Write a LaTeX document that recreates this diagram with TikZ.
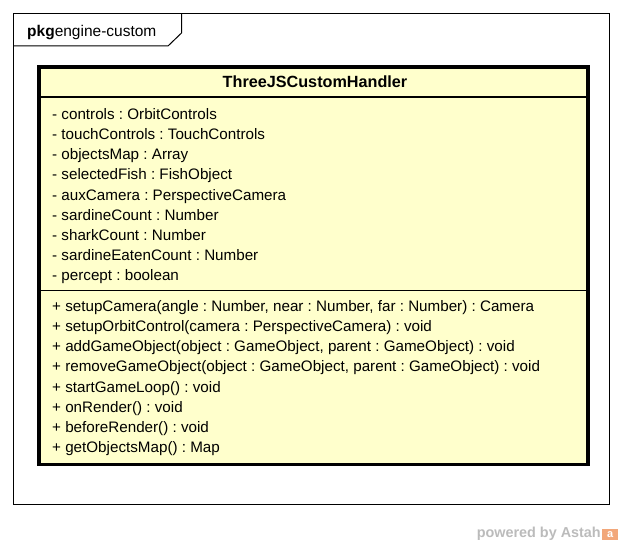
\documentclass[tikz,border=0pt]{standalone}
\usepackage{fontspec}
\setmainfont{Liberation Sans}
\usetikzlibrary{positioning}
\frenchspacing
\definecolor{classfill}{HTML}{FFFFCC}
\definecolor{astahgray}{HTML}{BBBBBB}
\definecolor{astahorange}{HTML}{F2A77A}
\tikzset{
  member/.style={anchor=base west, inner sep=0, font=\fontsize{15.2}{18}\selectfont},
  frameline/.style={black, line width=1pt}
}
\begin{document}
\begin{tikzpicture}[x=1pt, y=-1pt]
\useasboundingbox (0,0) rectangle (622,545);
\draw[frameline] (13.5,13.5) rectangle (609,505);
\draw[frameline] (13.5,46) -- (168,46) -- (181.5,33) -- (181.5,13.5);
\node[member, font=\fontsize{15.5}{18}\selectfont] (pkg) at (27,36.5) {\textbf{pkg}engine-custom};
\draw[fill=classfill, line width=3.2pt] (39,67) rectangle (588,464.5);
\draw[line width=1.2pt] (40,97) -- (587,97);
\draw[line width=1.2pt] (40,290.5) -- (587,290.5);
\node[member, anchor=base, font=\fontsize{16.2}{18}\selectfont\bfseries] (name) at (315,88) {ThreeJSCustomHandler};
\foreach \t [count=\i] in {{- controls : OrbitControls},{- touchControls : TouchControls},{- objectsMap : Array},{- selectedFish : FishObject},{- auxCamera : PerspectiveCamera},{- sardineCount : Number},{- sharkCount : Number},{- sardineEatenCount : Number},{- percept : boolean}}
  \node[member] (attr\i) at (52,{119.5+20.15*(\i-1)}) {\t};
\foreach \t [count=\i] in {{+ setupCamera(angle : Number, near : Number, far : Number) : Camera},{+ setupOrbitControl(camera : PerspectiveCamera) : void},{+ addGameObject(object : GameObject, parent : GameObject) : void},{+ removeGameObject(object : GameObject, parent : GameObject) : void},{+ startGameLoop() : void},{+ onRender() : void},{+ beforeRender() : void},{+ getObjectsMap() : Map}}
  \node[member] (op\i) at (52,{311.5+20.15*(\i-1)}) {\t};
\node[anchor=base east, inner sep=0, text=astahgray, font=\fontsize{14.4}{16}\selectfont\bfseries] (powered) at (601,538) {powered by Astah};
\node[right=1pt of powered.east, anchor=west, fill=astahorange, text=white, inner sep=0, minimum width=16pt, minimum height=11pt, font=\fontsize{11}{11}\selectfont\bfseries] (logo) {a};
\end{tikzpicture}
\end{document}
